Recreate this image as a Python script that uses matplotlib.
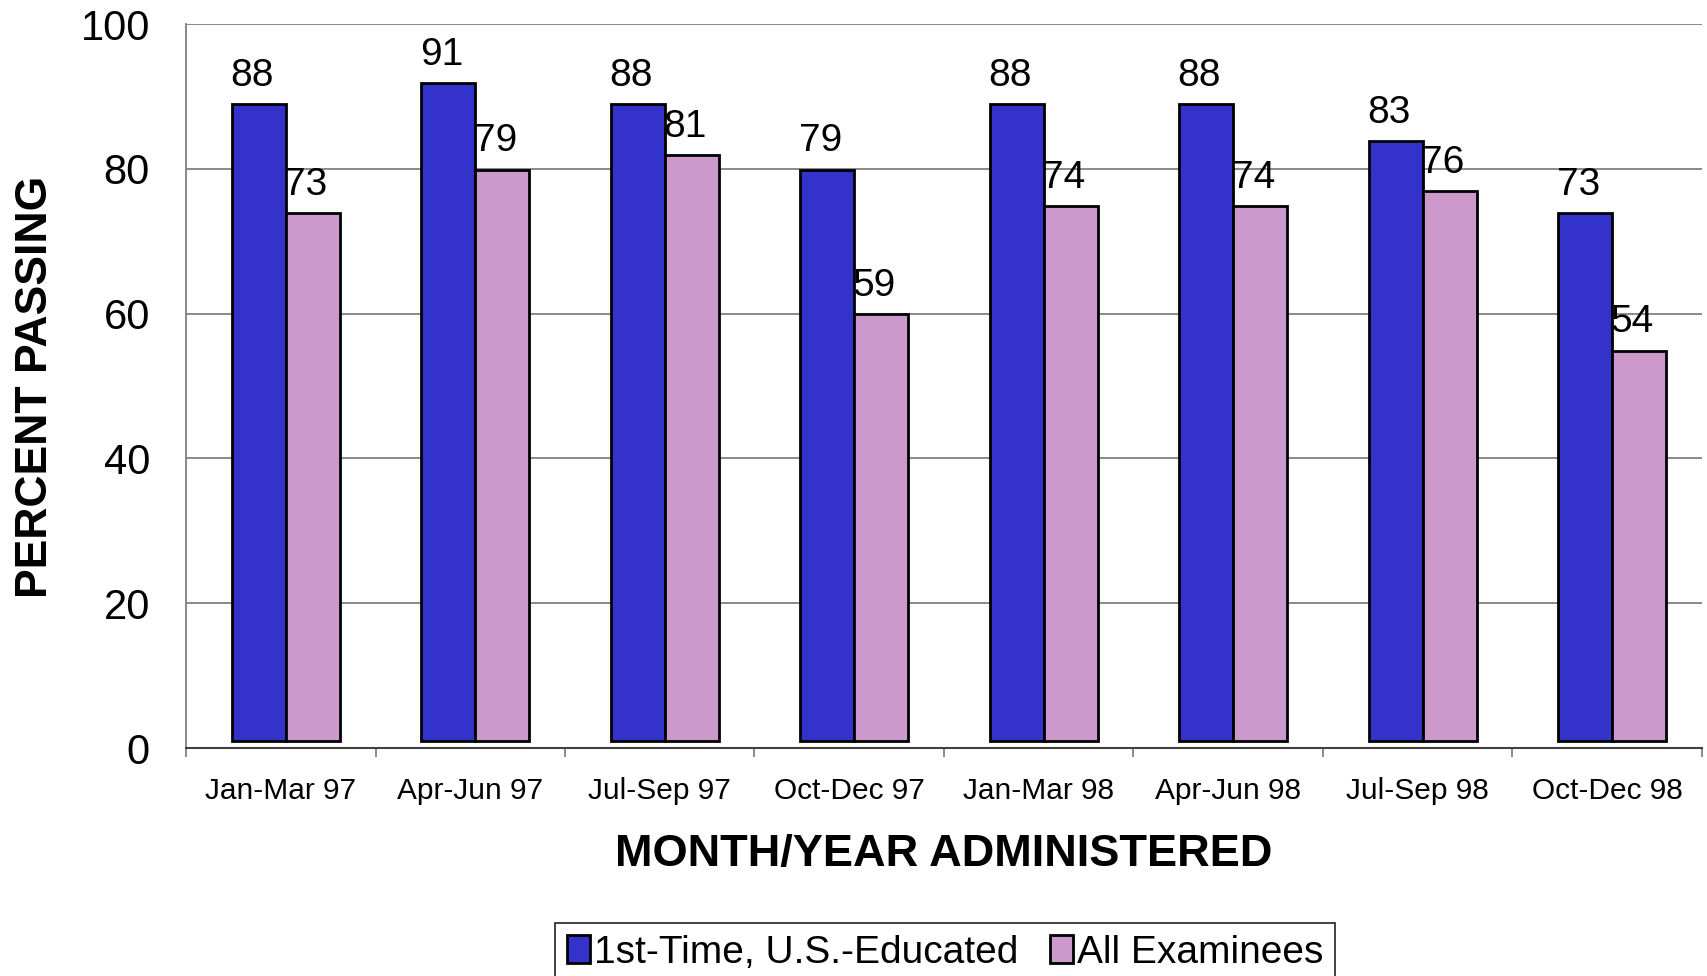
import numpy as np
import matplotlib.pyplot as plt
from matplotlib.patches import Patch

quarters = ["Jan-Mar 97", "Apr-Jun 97", "Jul-Sep 97", "Oct-Dec 97",
            "Jan-Mar 98", "Apr-Jun 98", "Jul-Sep 98", "Oct-Dec 98"]
first_time = [88, 91, 88, 79, 88, 88, 83, 73]
all_exam = [73, 79, 81, 59, 74, 74, 76, 54]
series_names = ["1st-Time, U.S.-Educated", "All Examinees"]

BLUE = "#3333CC"
PINK = "#CC99CC"
GRID = "#808080"

plt.rcParams['font.family'] = ['Liberation Sans', 'DejaVu Sans']

fig = plt.figure(figsize=(17.07, 9.76), dpi=100)
ax = fig.add_axes([0.109, 0.2336, 0.888, 0.7418])

x = np.arange(len(quarters))
bar_w = 0.285
shift = 0.027
base = 0.9  # bars sit a bit above the axis line in the original

b1 = ax.bar(x + shift - bar_w / 2, first_time, bar_w, bottom=base, color=BLUE,
            edgecolor="black", linewidth=2, zorder=3)
b2 = ax.bar(x + shift + bar_w / 2, all_exam, bar_w, bottom=base, color=PINK,
            edgecolor="black", linewidth=2, zorder=3)

for bars, vals in [(b1, first_time), (b2, all_exam)]:
    for r, v in zip(bars, vals):
        ax.annotate(str(v), (r.get_x() + r.get_width() / 2 - 0.037, v + base),
                    xytext=(0, 13), textcoords="offset points",
                    ha="center", va="baseline", fontsize=28, zorder=4)

ax.set_xlim(-0.5, len(quarters) - 0.5)
ax.set_ylim(0, 100)
ax.set_yticks([0, 20, 40, 60, 80, 100])
ax.yaxis.grid(True, color=GRID, linewidth=1.3, zorder=0)
ax.tick_params(axis="y", length=0, pad=26, labelsize=30)

ax.set_xticks(x)
ax.set_xticklabels(quarters)
ax.tick_params(axis="x", which="major", length=0, pad=21, labelsize=21.5)
ax.set_xticks(np.arange(len(quarters) + 1) - 0.5, minor=True)
ax.tick_params(axis="x", which="minor", length=6.5, width=1.3, color=GRID)

for s in ["top", "right"]:
    ax.spines[s].set_visible(False)
ax.spines["left"].set_color(GRID)
ax.spines["left"].set_linewidth(1.3)
ax.spines["bottom"].set_color("#404040")
ax.spines["bottom"].set_linewidth(1.5)

fig.text(0.021, 0.6035, "PERCENT PASSING", rotation=90, ha="center",
         va="center", fontsize=32, fontweight="bold")
fig.text(0.553, 0.124, "MONTH/YEAR ADMINISTERED", ha="center", va="center",
         fontsize=32.5, fontweight="bold")

handles = [Patch(facecolor=BLUE, edgecolor="black", linewidth=2),
           Patch(facecolor=PINK, edgecolor="black", linewidth=2)]
leg = fig.legend(handles, series_names, loc="upper center",
                 bbox_to_anchor=(0.5536, 0.0543), ncol=2, frameon=True,
                 fancybox=False, edgecolor="black", handlelength=0.6,
                 handleheight=0.7, handletextpad=0.1, columnspacing=0.8,
                 borderpad=0.3, borderaxespad=0, prop={'size': 28})
leg.get_frame().set_linewidth(1.3)

fig.savefig("out.png", dpi=100)
